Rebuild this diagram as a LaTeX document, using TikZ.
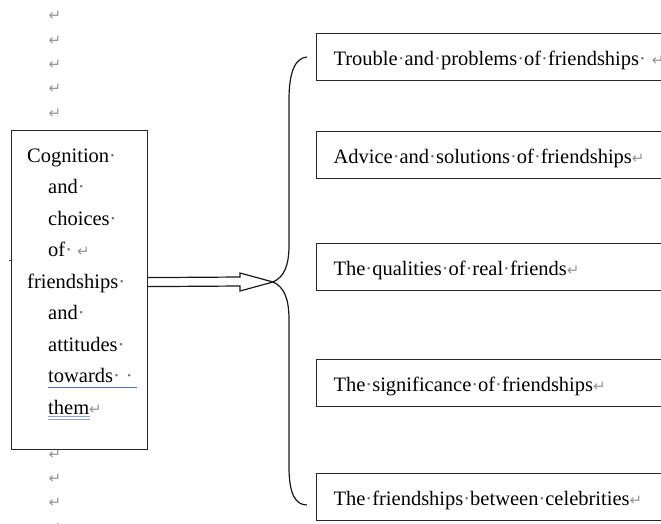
\documentclass[tikz,border=0pt]{standalone}
\usepackage{fontspec}
\setmainfont{Liberation Serif}
\newfontfamily\symfont{DejaVu Sans}
\definecolor{markgray}{RGB}{150,150,150}
\definecolor{dotgray}{RGB}{110,110,110}
\definecolor{gramblue}{RGB}{70,115,200}
\definecolor{lightblue}{RGB}{140,165,225}
% Word-style formatting marks
\newcommand{\sdot}{\textcolor{dotgray}{·}}
\newcommand{\retmark}{{\symfont\fontsize{15}{15}\selectfont\textcolor{markgray}{↵}}}
\begin{document}
\begin{tikzpicture}[x=1pt, y=-1pt,
  frame/.style={draw=black!85, line width=1.2pt},
  topic/.style={frame, anchor=north west, minimum height=47pt,
    inner xsep=17pt, inner ysep=0pt, text width=380pt,
    text height=32pt, text depth=15pt},
  retnode/.style={inner sep=0pt},
  bodyfont/.style={font=\fontsize{20.5}{31.5}\selectfont}]
\useasboundingbox (0,0) rectangle (661,523);

% paragraph marks outside the boxes
\foreach \yy [count=\i] in {16,41,65,89,114,455,479,503,528}
  \node[retnode] (r\i) at (55,\yy) {\retmark};

% left box with its text
\node[frame, anchor=north west, minimum width=136pt, minimum height=319pt,
      inner sep=0pt] (L) at (11,130) {};
\node[bodyfont, anchor=base west, inner sep=0pt] (Ltext) at (27,162) {%
  \vtop{\baselineskip=31.5pt
    \hbox{Cognition\sdot}
    \hbox{\hspace*{21pt}and\sdot}
    \hbox{\hspace*{21pt}choices\sdot}
    \hbox{\hspace*{21pt}of\sdot\hspace{5pt}\retmark}
    \hbox{friendships\sdot}
    \hbox{\hspace*{21pt}and\sdot}
    \hbox{\hspace*{21pt}attitudes\sdot}
    \hbox{\hspace*{21pt}towards\sdot\hspace{6pt}\sdot}
    \hbox{\hspace*{21pt}them\retmark}}};
% grammar underlines
\draw[gramblue, line width=1pt] (48,387) -- (137,387);
\draw[lightblue, line width=0.9pt] (48,416) -- (90,416);
\draw[lightblue, line width=0.9pt] (48,419) -- (90,419);
% anchor mark
\fill[black!70] (8.5,259.5) rectangle (10.5,261);

% topic boxes
\node[topic, bodyfont] (B1) at (316,33)  {Trouble\sdot and\sdot problems\sdot of\sdot friendships\sdot\hspace{6pt}\retmark};
\node[topic, bodyfont] (B2) at (316,131) {Advice\sdot and\sdot solutions\sdot of\sdot friendships\retmark};
\node[topic, bodyfont] (B3) at (316,243) {The\sdot qualities\sdot of\sdot real\sdot friends\retmark};
\node[topic, bodyfont] (B4) at (316,359) {The\sdot significance\sdot of\sdot friendships\retmark};
\node[topic, bodyfont] (B5) at (316,473) {The\sdot friendships\sdot between\sdot celebrities\retmark};

% curly brace gathering the topics
\coordinate (tip) at (273,282);
\draw[line width=1.2pt, black!90]
  (307,57) .. controls (295,58) and (289,72) .. (289,100)
  -- (289,245) .. controls (289,266) and (284,277) .. (tip)
  .. controls (284,287) and (289,298) .. (289,320)
  -- (289,467) .. controls (289,495) and (296,505) .. (307,505);

% hollow double arrow from the left box to the brace
\draw[line width=1.2pt, black!90, line join=miter]
  ([yshift=12.5pt]L.east) -- (240,277) -- (240,273) -- (tip)
  -- (240,291) -- (240,286) -- ([yshift=3.5pt]L.east);
\end{tikzpicture}
\end{document}
